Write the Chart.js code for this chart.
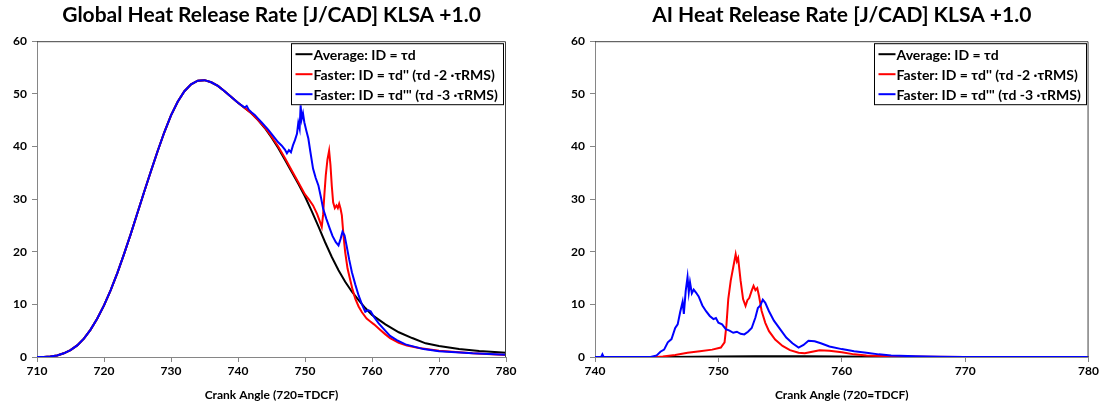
<!DOCTYPE html>
<html>
<head>
<meta charset="utf-8">
<script src="https://cdn.jsdelivr.net/npm/chart.js@4.4.1/dist/chart.umd.min.js"></script>
<style>
  html, body { margin: 0; padding: 0; background: #fff; }
  .wrap { position: absolute; top: 0; height: 406px; }
  #left { left: 0; width: 550px; }
  #right { left: 550px; width: 551px; }
</style>
</head>
<body>
<div class="wrap" id="left"><canvas id="globalChart" width="550" height="406"></canvas></div>
<div class="wrap" id="right"><canvas id="aiChart" width="551" height="406"></canvas></div>
<script>
const seriesNames = ['Average: ID = τd', "Faster: ID = τd'' (τd -2 ·τRMS)", "Faster: ID = τd''' (τd -3 ·τRMS)"];
const seriesColors = ['#000000', '#ff0000', '#0000ff'];

// global HRR, average (black)
const globalAvgAngle = [710, 711, 712, 713, 714, 715, 716, 717, 718, 719, 720, 721, 722, 723, 724, 725, 726, 727, 728, 729, 730, 731, 732, 733, 734, 735, 736, 737, 738, 739, 740, 741, 742, 743, 744, 745, 746, 747, 748, 749, 750, 751, 752, 753, 754, 755, 756, 757, 758, 759, 760, 761, 762, 764, 766, 768, 770, 773, 776, 780];
const globalAvgHrr = [0, 0.02, 0.1, 0.3, 0.7, 1.3, 2.2, 3.5, 5.2, 7.3, 9.8, 12.7, 16, 19.6, 23.4, 27.4, 31.4, 35.3, 39.1, 42.7, 45.9, 48.5, 50.5, 51.8, 52.5, 52.6, 52.2, 51.5, 50.5, 49.4, 48.3, 47.3, 46.3, 45, 43.5, 41.7, 39.7, 37.5, 35.2, 32.9, 30.5, 27.7, 24.8, 21.8, 19, 16.5, 14.3, 12.4, 10.8, 9.3, 8.0, 7.1, 6.2, 4.7, 3.6, 2.6, 2.1, 1.5, 1.15, 0.8];

// global HRR, faster -2 rms (red), after it leaves the average curve
const globalRedAngle = [744, 745, 746, 747, 748, 749, 750, 750.6, 751.2, 751.8, 752.2, 752.5, 752.7, 752.9, 753.1, 753.35, 753.6, 753.8, 754, 754.2, 754.45, 754.7, 754.9, 755.1, 755.3, 755.5, 755.75, 756, 756.35, 756.7, 757.1, 757.5, 758, 758.5, 759.2, 759.7, 760.3, 761.2, 762, 762.7, 764, 765.2, 767, 770, 775, 780];
const globalRedHrr = [43.6, 41.9, 40, 37.8, 35.5, 33.2, 30.9, 29.9, 28.8, 27.2, 25.8, 24.7, 27, 31, 34.5, 37.5, 39.2, 36.5, 32.5, 29.4, 28.3, 28.8, 28.3, 29.1, 28.2, 26.9, 23, 19.9, 16.8, 14.9, 12.8, 11.1, 9.6, 8.5, 7.3, 6.8, 6.2, 5.2, 4.3, 3.6, 2.7, 2.2, 1.7, 1.2, 0.7, 0.4];

// global HRR, faster -3 rms (blue)
const globalBlueAngle = [741, 741.3, 741.6, 742, 742.5, 743, 743.5, 744, 744.5, 745, 745.5, 746, 746.5, 747, 747.3, 747.6, 747.9, 748.2, 748.5, 748.8, 749, 749.2, 749.35, 749.5, 749.7, 749.9, 750.2, 750.5, 750.8, 751.2, 751.6, 752, 752.4, 752.7, 753.2, 753.7, 754.1, 754.6, 755, 755.3, 755.6, 755.9, 756.2, 756.6, 757, 757.5, 758, 758.5, 759, 759.4, 759.8, 760.3, 761, 761.7, 762.7, 763.7, 765, 767.7, 770, 775, 780];
const globalBlueHrr = [47.4, 47.7, 47, 46.5, 46, 45.3, 44.6, 43.9, 43.2, 42.4, 41.6, 40.8, 40.2, 39.4, 38.7, 39.3, 38.9, 40.2, 41.2, 42.4, 44.5, 43.4, 47.8, 45.2, 46.3, 44.6, 43, 41.5, 39, 35.8, 34, 32.6, 30.2, 28.2, 26.2, 24.4, 23, 21.8, 21.2, 22.4, 23.8, 23.1, 21.2, 18.5, 16.1, 13.8, 11.7, 10, 8.6, 8.9, 8.7, 7.6, 6.4, 5.4, 4, 3.2, 2.4, 1.5, 1.1, 0.7, 0.45];

// AI HRR
const aiAvgAngle = [740, 746, 748, 750, 753, 757, 760, 763, 766, 780];
const aiAvgHrr = [0, 0, 0.03, 0.08, 0.15, 0.15, 0.08, 0.03, 0, 0];

const aiRedAngle = [740, 745, 745.5, 746.5, 747.5, 748.5, 749.5, 750.2, 750.5, 750.65, 750.8, 751, 751.2, 751.4, 751.5, 751.6, 751.8, 752, 752.2, 752.35, 752.5, 752.7, 752.85, 753, 753.15, 753.3, 753.5, 753.8, 754.1, 754.6, 755.2, 755.8, 756.5, 757, 757.6, 758.2, 759, 760, 761, 762, 764, 767, 770, 780];
const aiRedHrr = [0, 0, 0.1, 0.4, 0.8, 1.1, 1.4, 1.8, 2.8, 6, 11, 14.5, 17, 19.5, 18.2, 18.8, 14.5, 11, 9.7, 10.8, 11.2, 12.6, 13.5, 12.7, 13.1, 11.5, 8.8, 6.5, 4.9, 3.3, 2.1, 1.3, 0.8, 0.7, 1.0, 1.3, 1.2, 0.9, 0.5, 0.3, 0.12, 0.04, 0, 0];

const aiBlueAngle = [740, 740.5, 740.6, 740.7, 744.5, 745, 745.3, 745.6, 745.9, 746.2, 746.5, 746.7, 746.9, 747.1, 747.2, 747.35, 747.5, 747.6, 747.7, 747.85, 748, 748.2, 748.4, 748.7, 749, 749.3, 749.6, 749.8, 750, 750.3, 750.6, 750.9, 751.2, 751.5, 751.8, 752.1, 752.4, 752.7, 753, 753.2, 753.4, 753.6, 753.8, 754.1, 754.5, 755, 755.5, 756, 756.5, 756.9, 757.3, 757.8, 758.3, 759, 760, 761, 762, 763, 764, 766, 768, 770, 780];
const aiBlueHrr = [0, 0, 0.5, 0, 0, 0.3, 1, 1.4, 2.8, 3.4, 5.5, 6.2, 8.5, 10.5, 8.2, 12.5, 15.2, 12.3, 14.2, 12.1, 12.8, 12.2, 11.5, 9.8, 8.7, 7.8, 7.2, 7.4, 6.5, 6.2, 5.3, 5.0, 4.6, 4.8, 4.4, 4.3, 4.8, 5.5, 7.5, 9.3, 9.8, 10.9, 10.3, 8.7, 6.9, 5.3, 3.7, 2.6, 1.8, 2.3, 3.1, 3.0, 2.6, 2.0, 1.5, 1.1, 0.8, 0.5, 0.3, 0.12, 0.04, 0, 0];

const yTicks = [0, 10, 20, 30, 40, 50, 60];

function toPoints(xs, ys) {
  return xs.map((x, i) => ({ x, y: ys[i] }));
}

// red/blue share the average curve until they branch off
function withLead(xs, ys) {
  const lead = [];
  globalAvgAngle.forEach((a, i) => {
    if (a < xs[0]) lead.push({ x: a, y: globalAvgHrr[i] });
  });
  return lead.concat(toPoints(xs, ys));
}

const FONT = 'Lato, "Open Sans", sans-serif';

const frameAndLegend = {
  id: 'frameAndLegend',
  afterDatasetsDraw(chart) {
    const { ctx, chartArea: a } = chart;
    ctx.save();
    ctx.strokeStyle = '#404040';
    ctx.lineWidth = 1;
    ctx.beginPath();
    ctx.moveTo(a.left, a.top + 0.5);
    ctx.lineTo(a.right - 0.5, a.top + 0.5);
    ctx.lineTo(a.right - 0.5, a.bottom);
    ctx.stroke();

    // legend box, top right inside the plot
    ctx.font = 'bold 14px ' + FONT;
    const textW = Math.max(...seriesNames.map(n => ctx.measureText(n).width));
    const w = Math.round(textW + 28), h = 61;
    const x0 = Math.round(a.right - w - 3) + 0.5, y0 = a.top + 2.5;
    ctx.fillStyle = '#fff';
    ctx.fillRect(x0, y0, w, h);
    ctx.strokeStyle = '#000';
    ctx.strokeRect(x0, y0, w, h);
    ctx.textBaseline = 'middle';
    seriesNames.forEach((name, i) => {
      const yy = y0 + 10.5 + i * 20;
      ctx.strokeStyle = seriesColors[i];
      ctx.lineWidth = 2;
      ctx.beginPath();
      ctx.moveTo(x0 + 4, yy);
      ctx.lineTo(x0 + 21, yy);
      ctx.stroke();
      ctx.fillStyle = '#000';
      ctx.fillText(name, x0 + 22, yy + 1);
    });
    ctx.restore();
  }
};

function makeChart(canvasId, title, xMin, xMax, sets, leftW, rightPad) {
  const ctx = document.getElementById(canvasId).getContext('2d');
  return new Chart(ctx, {
    type: 'line',
    data: {
      datasets: sets.map((d, i) => ({
        label: seriesNames[i],
        data: d,
        borderColor: seriesColors[i],
        borderWidth: 2,
        pointRadius: 0,
        fill: false,
        tension: 0
      })).reverse()
    },
    options: {
      responsive: false,
      animation: false,
      layout: { autoPadding: false, padding: { right: rightPad, top: 0, left: 0, bottom: 0 } },
      plugins: {
        legend: { display: false },
        tooltip: { enabled: false },
        title: {
          display: true,
          fullSize: false,
          text: title,
          color: '#000',
          font: { family: FONT, size: 21, weight: 'bold', lineHeight: 1.2 },
          padding: { top: 3, bottom: 13 }
        }
      },
      scales: {
        x: {
          type: 'linear',
          min: xMin,
          max: xMax,
          afterFit: s => { s.height = 49; },
          border: { color: '#868686', width: 1 },
          grid: { drawOnChartArea: false, color: '#868686', tickLength: 5 },
          ticks: { stepSize: 10, color: '#000', font: { family: FONT, size: 12, weight: 'bold' }, padding: 2, maxRotation: 0 },
          title: { display: true, text: 'Crank Angle (720=TDCF)', color: '#000', font: { family: FONT, size: 12, weight: 'bold' }, padding: { top: 3 } }
        },
        y: {
          min: 0,
          max: 60,
          afterFit: s => { s.width = leftW; },
          afterBuildTicks: s => { s.ticks = yTicks.map(v => ({ value: v })); },
          border: { color: '#868686', width: 1 },
          grid: { drawOnChartArea: false, color: '#868686', tickLength: 5 },
          ticks: { color: '#000', font: { family: FONT, size: 12, weight: 'bold' }, padding: 5 }
        }
      }
    },
    plugins: [frameAndLegend]
  });
}

makeChart('globalChart', 'Global Heat Release Rate [J/CAD] KLSA +1.0', 710, 780, [
  toPoints(globalAvgAngle, globalAvgHrr),
  withLead(globalRedAngle, globalRedHrr),
  withLead(globalBlueAngle, globalBlueHrr)
], 37, 44);

makeChart('aiChart', 'AI Heat Release Rate [J/CAD] KLSA +1.0', 740, 780, [
  toPoints(aiAvgAngle, aiAvgHrr),
  toPoints(aiRedAngle, aiRedHrr),
  toPoints(aiBlueAngle, aiBlueHrr)
], 45, 9);
</script>
</body>
</html>
